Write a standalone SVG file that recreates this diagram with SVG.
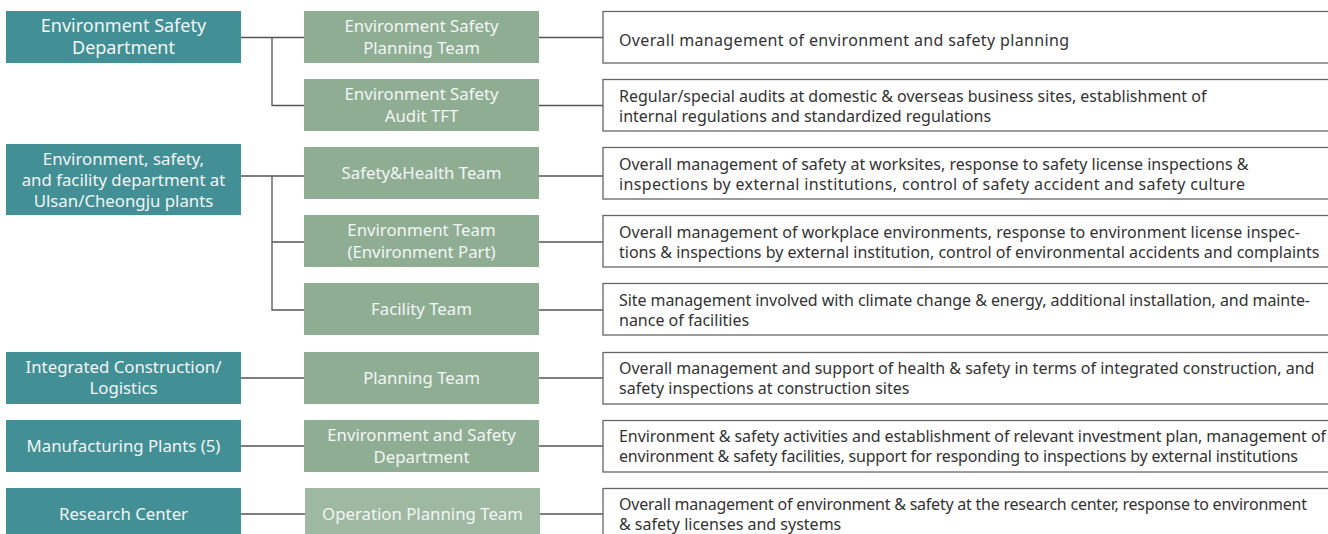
<svg xmlns="http://www.w3.org/2000/svg" width="1328" height="534" viewBox="0 0 1328 534">
<style>
.dept{fill:#438f96}
.team{fill:#8fad93}
.team2{fill:#9fb8a1}
.desc{fill:#fff;stroke:#666;stroke-width:1.3}
.lt{font-family:"Noto Sans",sans-serif;font-size:16.8px;fill:#f2f6f4;text-anchor:middle}
.big{font-size:18px}
.dt{font-family:"Noto Sans",sans-serif;font-size:16px;fill:#333}
.con{fill:none;stroke:#555;stroke-width:1.3}
</style>
<rect width="1328" height="534" fill="#fff"/>
<g id="connectors">
<path class="con" d="M241 37.5H304M272 37.5V105.5H304"/>
<path class="con" d="M241 176H304M272 176V310H304M272 242H304"/>
<path class="con" d="M241 378H304M241 446H304M241 514H305"/>
<path class="con" d="M539 37.5H603M539 105.5H603M539 176H603M539 242H603M539 310H603M539 378H603M539 446H603M540 514H603"/>
</g>
<g id="dept-env-safety"><rect class="dept" x="6" y="11" width="235" height="52"/><text class="lt big" x="123.5" y="32">Environment Safety</text><text class="lt big" x="123.5" y="54">Department</text></g>
<g id="dept-ulsan"><rect class="dept" x="6" y="144" width="235" height="71"/><text class="lt" x="123.5" y="164.5">Environment, safety,</text><text class="lt" x="123.5" y="185.5">and facility department at</text><text class="lt" x="123.5" y="206.5">Ulsan/Cheongju plants</text></g>
<g id="dept-construction"><rect class="dept" x="6" y="352" width="235" height="52"/><text class="lt" x="123.5" y="372.5">Integrated Construction/</text><text class="lt" x="123.5" y="393.5">Logistics</text></g>
<g id="dept-manufacturing"><rect class="dept" x="6" y="420" width="235" height="52"/><text class="lt" x="123.5" y="452">Manufacturing Plants (5)</text></g>
<g id="dept-research"><rect class="dept" x="6" y="488" width="235" height="52"/><text class="lt" x="123.5" y="520">Research Center</text></g>

<g id="team-planning"><rect class="team" x="304" y="11" width="235" height="52"/><text class="lt" x="421.5" y="32">Environment Safety</text><text class="lt" x="421.5" y="53.5">Planning Team</text></g>
<g id="team-audit"><rect class="team" x="304" y="79" width="235" height="52"/><text class="lt" x="421.5" y="100">Environment Safety</text><text class="lt" x="421.5" y="121.5">Audit TFT</text></g>
<g id="team-safety-health"><rect class="team" x="304" y="147" width="235" height="52"/><text class="lt" x="421.5" y="179">Safety&amp;Health Team</text></g>
<g id="team-environment"><rect class="team" x="304" y="215" width="235" height="52"/><text class="lt" x="421.5" y="236">Environment Team</text><text class="lt" x="421.5" y="257.5">(Environment Part)</text></g>
<g id="team-facility"><rect class="team" x="304" y="283" width="235" height="52"/><text class="lt" x="421.5" y="315">Facility Team</text></g>
<g id="team-construction-planning"><rect class="team" x="304" y="352" width="235" height="52"/><text class="lt" x="421.5" y="384">Planning Team</text></g>
<g id="team-env-safety-dept"><rect class="team" x="304" y="420" width="235" height="52"/><text class="lt" x="421.5" y="441">Environment and Safety</text><text class="lt" x="421.5" y="462.5">Department</text></g>
<g id="team-operation"><rect class="team2" x="305" y="488" width="235" height="52"/><text class="lt" x="422.5" y="520">Operation Planning Team</text></g>

<g id="desc-1"><rect class="desc" x="603" y="11.5" width="730" height="51.5"/><text class="dt" x="619" y="46" textLength="450" lengthAdjust="spacing">Overall management of environment and safety planning</text></g>
<g id="desc-2"><rect class="desc" x="603" y="79.5" width="730" height="51.5"/><text class="dt" x="619" y="102">Regular/special audits at domestic &amp; overseas business sites, establishment of</text><text class="dt" x="619" y="122">internal regulations and standardized regulations</text></g>
<g id="desc-3"><rect class="desc" x="603" y="147.5" width="730" height="51.5"/><text class="dt" x="619" y="170">Overall management of safety at worksites, response to safety license inspections &amp;</text><text class="dt" x="619" y="190" textLength="626" lengthAdjust="spacing">inspections by external institutions, control of safety accident and safety culture</text></g>
<g id="desc-4"><rect class="desc" x="603" y="215.5" width="730" height="51.5"/><text class="dt" x="619" y="238" textLength="681" lengthAdjust="spacing">Overall management of workplace environments, response to environment license inspec-</text><text class="dt" x="619" y="258">tions &amp; inspections by external institution, control of environmental accidents and complaints</text></g>
<g id="desc-5"><rect class="desc" x="603" y="283.5" width="730" height="51.5"/><text class="dt" x="619" y="306" textLength="691" lengthAdjust="spacing">Site management involved with climate change &amp; energy, additional installation, and mainte-</text><text class="dt" x="619" y="326">nance of facilities</text></g>
<g id="desc-6"><rect class="desc" x="603" y="352.5" width="730" height="51.5"/><text class="dt" x="619" y="374">Overall management and support of health &amp; safety in terms of integrated construction, and</text><text class="dt" x="619" y="394">safety inspections at construction sites</text></g>
<g id="desc-7"><rect class="desc" x="603" y="420.5" width="730" height="51.5"/><text class="dt" x="619" y="442" textLength="707" lengthAdjust="spacing">Environment &amp; safety activities and establishment of relevant investment plan, management of</text><text class="dt" x="619" y="462" textLength="679" lengthAdjust="spacing">environment &amp; safety facilities, support for responding to inspections by external institutions</text></g>
<g id="desc-8"><rect class="desc" x="603" y="488.5" width="730" height="51.5"/><text class="dt" x="619" y="510" textLength="688" lengthAdjust="spacing">Overall management of environment &amp; safety at the research center, response to environment</text><text class="dt" x="619" y="530">&amp; safety licenses and systems</text></g>
</svg>
